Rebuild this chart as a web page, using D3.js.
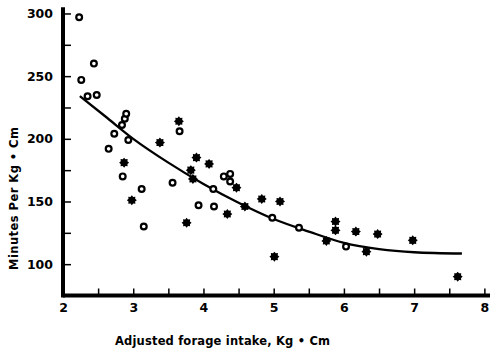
<!DOCTYPE html>
<html lang="en">
<head>
    <meta charset="UTF-8">
    <title>Minutes per Kg Cm vs adjusted forage intake</title>
    <style>
        body {
            margin: 0;
            background-color: #fff;
        }

        svg {
            display: block;
        }

        text {
            font-family: "DejaVu Sans", sans-serif;
            font-weight: bold;
            fill: #000;
        }

        .axis text {
            font-size: 12.5px;
        }

        .axis line {
            stroke: #000;
            stroke-width: 1.5;
        }
    </style>
</head>
<body>
    <svg id="chart" width="492" height="355"></svg>

    <script src="https://cdnjs.cloudflare.com/ajax/libs/d3/7.8.5/d3.min.js"></script>
    <script>
        // open circles
        const openX = [2.23, 2.44, 2.26, 2.35, 2.48, 2.88, 2.90, 2.84, 2.73, 2.93, 2.65, 2.85, 3.12,
            3.56, 3.15, 3.66, 4.29, 4.38, 4.38, 4.14, 3.93, 4.15, 4.98, 5.36, 6.03];
        const openY = [297, 260, 247, 234, 235, 216, 220, 211, 204, 199, 192, 170, 160,
            165, 130, 206, 170, 172, 166, 160, 147, 146, 137, 129, 114];

        // stars
        const starX = [3.38, 2.87, 2.98, 3.65, 3.90, 4.08, 3.82, 3.85, 4.47, 4.34, 4.83, 5.09,
            4.59, 3.76, 5.01, 5.88, 5.88, 5.75, 6.17, 6.32, 6.48, 6.98, 7.62];
        const starY = [197, 181, 151, 214, 185, 180, 175, 168, 161, 140, 152, 150,
            146, 133, 106, 134, 127, 118.5, 126, 110, 124, 119, 90];

        // fitted curve
        const fitX = [2.24, 2.6, 3.0, 3.5, 4.0, 4.5, 5.0, 5.5, 6.0, 6.5, 7.0, 7.68];
        const fitY = [234, 218, 200, 181, 164, 149, 136, 126, 117, 112, 109.5, 108.5];

        const xTicks = [2, 2.5, 3, 3.5, 4, 4.5, 5, 5.5, 6, 6.5, 7, 7.5, 8];
        const yTicks = [100, 125, 150, 175, 200, 225, 250, 275, 300];

        const svg = d3.select('#chart');

        let x = d3.scaleLinear()
            .domain([2, 8.08])
            .range([63, 490]);

        let y = d3.scaleLinear()
            .domain([75, 305])
            .range([295.5, 7.2]);

        // axes (ticks point inward)
        let axisX = d3.axisBottom(x)
            .tickValues(xTicks)
            .tickSizeInner(-7)
            .tickSizeOuter(0)
            .tickPadding(7.5)
            .tickFormat(d => Number.isInteger(d) ? d : '');

        let axisY = d3.axisLeft(y)
            .tickValues(yTicks)
            .tickSizeInner(-8)
            .tickSizeOuter(0)
            .tickPadding(10)
            .tickFormat(d => d % 50 === 0 ? d : '');

        svg.append('g')
            .attr('class', 'axis')
            .attr('transform', 'translate(0,' + y(75) + ')')
            .call(axisX)
            .call(g => g.select('.domain').remove());

        svg.append('g')
            .attr('class', 'axis')
            .attr('transform', 'translate(' + x(2) + ',0)')
            .call(axisY)
            .call(g => g.select('.domain').remove());

        // heavy axis lines
        svg.append('line')
            .attr('x1', x(2)).attr('x2', x(8.08))
            .attr('y1', y(75)).attr('y2', y(75))
            .attr('stroke', '#000').attr('stroke-width', 4);
        svg.append('line')
            .attr('x1', x(2)).attr('x2', x(2))
            .attr('y1', y(305)).attr('y2', y(75) + 2)
            .attr('stroke', '#000').attr('stroke-width', 4);

        // axis titles
        svg.append('text')
            .attr('x', 222.5)
            .attr('y', 345)
            .attr('text-anchor', 'middle')
            .style('font-size', '11.5px')
            .attr('textLength', 215)
            .attr('lengthAdjust', 'spacing')
            .text('Adjusted forage intake, Kg \u2022 Cm');

        svg.append('text')
            .attr('transform', 'translate(18,198.5) rotate(-90)')
            .attr('text-anchor', 'middle')
            .style('font-size', '11.5px')
            .attr('textLength', 143)
            .attr('lengthAdjust', 'spacing')
            .text('Minutes Per Kg \u2022 Cm');

        // fitted curve
        let line = d3.line()
            .x((d, i) => x(fitX[i]))
            .y((d, i) => y(fitY[i]))
            .curve(d3.curveMonotoneX);

        svg.append('path')
            .attr('d', line(fitX))
            .attr('fill', 'none')
            .attr('stroke', '#000')
            .attr('stroke-width', 2.3);

        // 8-point burst marker
        const burst = {
            draw (ctx, size) {
                const outer = Math.sqrt(size) / 2;
                const inner = outer * 0.72;
                for (let i = 0; i < 16; i++) {
                    const r = i % 2 === 0 ? outer : inner;
                    const a = i * Math.PI / 8 - Math.PI / 2;
                    if (i === 0) ctx.moveTo(r * Math.cos(a), r * Math.sin(a));
                    else ctx.lineTo(r * Math.cos(a), r * Math.sin(a));
                }
                ctx.closePath();
            }
        };

        svg.append('g')
            .selectAll('path')
            .data(starX)
            .join('path')
            .attr('transform', (d, i) => 'translate(' + x(d) + ',' + y(starY[i]) + ')')
            .attr('d', d3.symbol().type(burst).size(100))
            .attr('fill', '#000');

        svg.append('g')
            .selectAll('circle')
            .data(openX)
            .join('circle')
            .attr('cx', d => x(d))
            .attr('cy', (d, i) => y(openY[i]))
            .attr('r', 2.9)
            .attr('fill', '#fff')
            .attr('stroke', '#000')
            .attr('stroke-width', 2.2);
    </script>
</body>
</html>
